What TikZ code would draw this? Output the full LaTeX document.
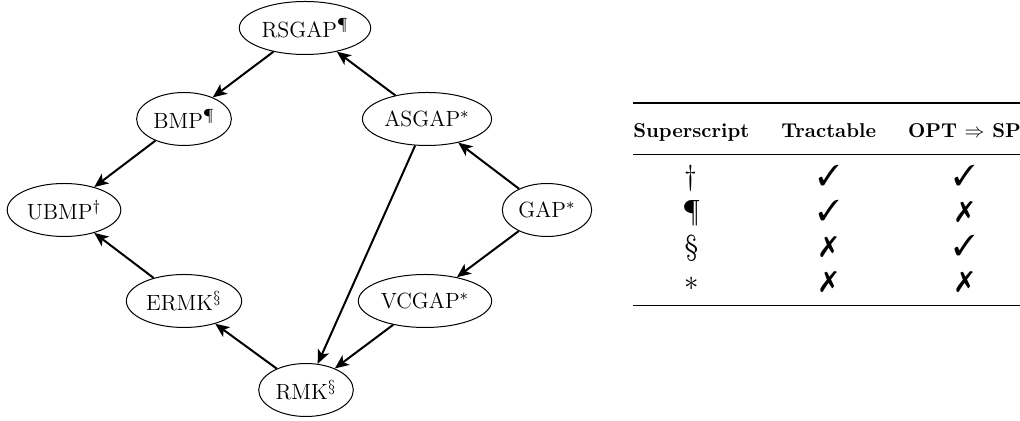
\documentclass[tikz,border=0pt]{standalone}
\usepackage{amsmath, amssymb}
\usepackage{tikz}
\usepackage{booktabs}
\usepackage{pifont}
\usetikzlibrary{shapes.geometric, arrows.meta, positioning}
\usetikzlibrary{calc}

\tikzset{
	prob/.style={ellipse, draw, line width=0.5pt, inner xsep=1.5pt, inner ysep=0pt, minimum height=26.5pt, font=\fontsize{11}{13}\selectfont},
	red/.style={line width=1pt, -{Stealth[length=7pt,width=6pt,inset=1.8pt]}}
}
\newcommand{\yes}{{\Large\ding{51}}}
\newcommand{\nope}{{\Large\ding{55}}}

\begin{document}
\begin{tikzpicture}[x=0.5pt,y=0.5pt]
				\useasboundingbox (0,0) rectangle (1020,421);
				\node[prob] (rsgap) at (305,393) {RSGAP$^{\P}$};
				\node[prob] (bmp) at (184,302) {BMP$^{\P}$};
				\node[prob] (ubmp) at (64,211) {UBMP$^{\dagger}$};
				\node[prob] (asgap) at (427,302) {ASGAP$^{*}$};
				\node[prob] (gap) at (547,211) {GAP$^{*}$};
				\node[prob] (vcgap) at (425,120) {VCGAP$^{*}$};
				\node[prob] (ermk) at (184,120) {ERMK$^{\S}$};
				\node[prob] (rmk) at (306,31) {RMK$^{\S}$};
				\draw[red] (asgap) -- (rsgap);
				\draw[red] (rsgap) -- (bmp);
				\draw[red] (bmp) -- (ubmp);
				\draw[red] (ermk) -- (ubmp);
				\draw[red] (rmk) -- (ermk);
				\draw[red] (asgap) -- (rmk);
				\draw[red] (vcgap) -- (rmk);
				\draw[red] (gap) -- (asgap);
				\draw[red] (gap) -- (vcgap);
				\node[anchor=north west, inner sep=0pt] (tbl) at (633,319) {%
					\renewcommand{\arraystretch}{1.45}\setlength{\tabcolsep}{8pt}%
					\begin{tabular}{@{}ccc@{}}
						\toprule\addlinespace[4.5pt]
						\textbf{Superscript} & \textbf{Tractable} & \textbf{OPT $\Rightarrow$ SP} \\[1.5pt]
						\midrule\addlinespace[3.2pt]
						{\Large$\dagger$} & \yes & \yes \\
						{\Large\P} & \yes & \nope \\
						{\Large\S} & \nope & \yes \\
						{\Large$*$} & \nope & \nope \\
						\addlinespace[2pt]\bottomrule
					\end{tabular}};
			\end{tikzpicture}
\end{document}
